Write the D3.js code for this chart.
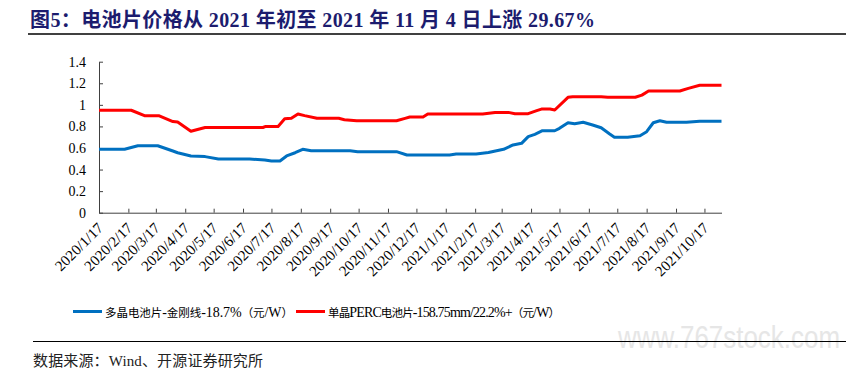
<!DOCTYPE html>
<html><head><meta charset="utf-8">
<script src="https://cdn.jsdelivr.net/npm/d3@7"></script>
<style>
html,body{margin:0;padding:0;background:#fff;}
svg{display:block;}
</style></head>
<body>
<svg id="c" width="846" height="391"></svg>
<script>
const titleText = "图5：电池片价格从 2021 年初至 2021 年 11 月 4 日上涨 29.67%";
const sourceText = "数据来源：Wind、开源证券研究所";
const seriesNames = ["多晶电池片-金刚线-18.7%（元/W）", "单晶PERC电池片-158.75mm/22.2%+（元/W）"];
const seriesColors = ["#0070C0", "#FF0000"];
const xTickLabels = ["2020/1/17","2020/2/17","2020/3/17","2020/4/17","2020/5/17","2020/6/17","2020/7/17","2020/8/17","2020/9/17","2020/10/17","2020/11/17","2020/12/17","2021/1/17","2021/2/17","2021/3/17","2021/4/17","2021/5/17","2021/6/17","2021/7/17","2021/8/17","2021/9/17","2021/10/17"];
const yTickValues = [0,0.2,0.4,0.6,0.8,1,1.2,1.4];
const yTickLabels = ["0","0.2","0.4","0.6","0.8","1","1.2","1.4"];
const xDomain = ["2020-01-17","2021-11-04"];

const polyDates = ["2020-01-17","2020-02-13","2020-02-27","2020-03-19","2020-04-04","2020-04-09","2020-04-23","2020-05-08","2020-05-22","2020-06-24","2020-07-10","2020-07-17","2020-07-26","2020-08-02","2020-08-11","2020-08-19","2020-08-28","2020-10-08","2020-10-16","2020-11-26","2020-12-07","2021-01-21","2021-01-28","2021-02-18","2021-03-03","2021-03-19","2021-03-29","2021-04-07","2021-04-14","2021-04-21","2021-04-29","2021-05-12","2021-05-17","2021-05-26","2021-06-02","2021-06-11","2021-06-21","2021-06-30","2021-07-09","2021-07-14","2021-07-28","2021-08-10","2021-08-17","2021-08-24","2021-08-31","2021-09-07","2021-09-28","2021-10-12","2021-11-04"];
const polyValues = [0.588,0.588,0.621,0.621,0.572,0.556,0.526,0.52,0.498,0.498,0.489,0.479,0.479,0.526,0.556,0.588,0.575,0.575,0.566,0.566,0.535,0.535,0.544,0.544,0.558,0.588,0.628,0.643,0.705,0.727,0.76,0.76,0.782,0.834,0.825,0.838,0.813,0.788,0.73,0.70,0.70,0.714,0.751,0.834,0.853,0.838,0.838,0.848,0.848];

const monoDates = ["2020-01-17","2020-02-20","2020-03-05","2020-03-20","2020-04-04","2020-04-09","2020-04-23","2020-05-08","2020-07-08","2020-07-11","2020-07-24","2020-07-31","2020-08-07","2020-08-14","2020-08-21","2020-09-03","2020-09-26","2020-10-02","2020-10-15","2020-11-26","2020-12-05","2020-12-10","2020-12-24","2020-12-29","2021-02-25","2021-03-10","2021-03-24","2021-03-31","2021-04-14","2021-04-23","2021-04-28","2021-05-07","2021-05-12","2021-05-26","2021-05-31","2021-06-30","2021-07-07","2021-08-05","2021-08-12","2021-08-19","2021-09-21","2021-09-30","2021-10-12","2021-11-04"];
const monoValues = [0.95,0.95,0.90,0.90,0.845,0.84,0.755,0.79,0.79,0.80,0.80,0.87,0.875,0.915,0.90,0.875,0.875,0.862,0.853,0.853,0.875,0.887,0.887,0.915,0.915,0.93,0.93,0.918,0.918,0.946,0.961,0.961,0.952,1.07,1.076,1.076,1.07,1.07,1.09,1.128,1.128,1.153,1.181,1.181];

const parse = d3.timeParse("%Y-%m-%d");
const parseTick = d3.timeParse("%Y/%m/%d");
const svg = d3.select("#c");
const serif = "'Liberation Serif','Times New Roman','Noto Sans CJK SC',serif";
const cjk = "'Liberation Serif','Noto Sans CJK SC',serif";

// Title
svg.append("text").attr("x", 30).attr("y", 27)
  .attr("font-family", cjk)
  .attr("font-weight", "bold").attr("font-size", 20).attr("fill", "#1c1c6e")
  .attr("textLength", 565).attr("lengthAdjust", "spacing")
  .text(titleText);
svg.append("line").attr("x1", 28).attr("x2", 846).attr("y1", 34).attr("y2", 34)
  .attr("stroke", "#000").attr("stroke-width", 1.5);

// Scales
const x = d3.scaleTime().domain(xDomain.map(parse)).range([99, 721.5]);
const y = d3.scaleLinear().domain([0, 1.4]).range([212.7, 61.7]);

// Y axis
const yAxis = svg.append("g").attr("transform", "translate(99,0)")
  .call(d3.axisLeft(y).tickValues(yTickValues).tickFormat((d,i)=>yTickLabels[i])
    .tickSizeInner(-4).tickSizeOuter(0).tickPadding(13));
yAxis.select(".domain").attr("stroke", "#404040");
yAxis.selectAll(".tick line").attr("stroke", "#404040");
yAxis.selectAll("text").attr("font-family", serif).attr("font-size", 14).attr("fill", "#000");

// X axis
const xTicks = xTickLabels.map(s => parseTick(s));
const xAxis = svg.append("g").attr("transform", "translate(0,212.7)")
  .call(d3.axisBottom(x).tickValues(xTicks).tickFormat(()=>"")
    .tickSizeInner(-4).tickSizeOuter(0));
xAxis.select(".domain").attr("stroke", "#404040");
xAxis.selectAll(".tick line").attr("stroke", "#404040");
xAxis.selectAll(".tick text").remove();
svg.append("g").selectAll("text").data(xTickLabels).join("text")
  .attr("transform", (d,i) => `translate(${x(xTicks[i]) + 5},${229}) rotate(-45)`)
  .attr("text-anchor", "end")
  .attr("font-family", serif).attr("font-size", 15).attr("fill", "#000")
  .text(d => d);

// Lines
const line = d3.line().x(d => x(d[0])).y(d => y(d[1]));
const polyData = polyDates.map((d,i) => [parse(d), polyValues[i]]);
const monoData = monoDates.map((d,i) => [parse(d), monoValues[i]]);
[polyData, monoData].forEach((data, i) => {
  svg.append("path").datum(data).attr("d", line)
    .attr("fill", "none").attr("stroke", seriesColors[i]).attr("stroke-width", 3)
    .attr("stroke-linejoin", "round");
});

// Legend: CJK runs slightly smaller than Latin runs, as in the reference
const isCJK = ch => /[\u3000-\u9fff\uff00-\uffef]/.test(ch);
function runs(s) {
  const out = [];
  for (const ch of s) {
    const c = isCJK(ch);
    if (out.length && out[out.length-1].c === c) out[out.length-1].t += ch;
    else out.push({c, t: ch});
  }
  return out;
}
const legendItems = [{x1: 73, x2: 102, tx: 105, w: 188}, {x1: 296, x2: 325, tx: 328, w: 232}];
legendItems.forEach((l, i) => {
  svg.append("line").attr("x1", l.x1).attr("x2", l.x2).attr("y1", 311.5).attr("y2", 311.5)
    .attr("stroke", seriesColors[i]).attr("stroke-width", 3);
  const t = svg.append("text").attr("x", l.tx).attr("y", 316.5)
    .attr("font-family", cjk).attr("fill", "#000")
    .attr("textLength", l.w).attr("lengthAdjust", "spacing");
  runs(seriesNames[i]).forEach(r => {
    t.append("tspan").attr("font-size", r.c ? 11.5 : 14)
      .attr("font-family", r.c ? "'Noto Sans CJK SC',sans-serif" : serif)
      .text(r.t);
  });
});

// Watermark
svg.append("text").attr("x", 840).attr("y", 348).attr("text-anchor", "end")
  .attr("font-family", "'Liberation Sans Narrow','Liberation Sans',sans-serif").attr("font-size", 32)
  .attr("textLength", 222).attr("lengthAdjust", "spacingAndGlyphs")
  .attr("fill", "#e6e6e6").text("www.767stock.com");

// Footer
svg.append("line").attr("x1", 33).attr("x2", 846).attr("y1", 341.5).attr("y2", 341.5)
  .attr("stroke", "#000").attr("stroke-width", 1);
svg.append("text").attr("x", 33).attr("y", 366)
  .attr("font-family", cjk).attr("font-size", 15).attr("fill", "#222")
  .attr("textLength", 230).attr("lengthAdjust", "spacing")
  .text(sourceText);
</script>
</body></html>
